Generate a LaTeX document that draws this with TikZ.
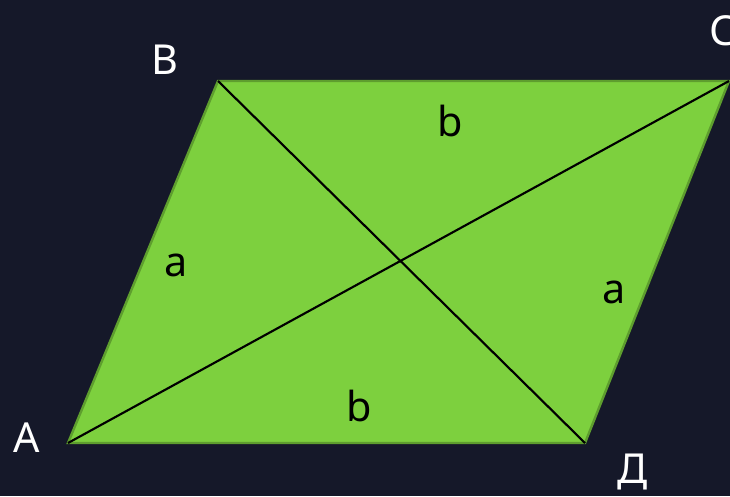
\documentclass[tikz,border=0pt]{standalone}
\usepackage{fontspec}
\setmainfont{Noto Sans}
\definecolor{bg}{HTML}{151829}
\definecolor{fillg}{HTML}{7DD03E}
\definecolor{edgeg}{HTML}{5E9E2E}
\begin{document}
\begin{tikzpicture}[x=0.75pt,y=-0.75pt,
  lbl/.style={inner sep=0pt,anchor=base west,font=\fontsize{31}{36}\selectfont},
  vlbl/.style={lbl,text=white},
  slbl/.style={lbl,text=black}]
\fill[bg] (0,0) rectangle (730,496);
\useasboundingbox (0,0) rectangle (730,496);
\coordinate (A) at (68,443);
\coordinate (B) at (218,81);
\coordinate (C) at (729,81);
\coordinate (D) at (585,443);
\filldraw[fill=fillg,draw=edgeg,line width=1.8pt,line join=miter] (A) -- (B) -- (C) -- (D) -- cycle;
\draw[black,line width=1.6pt] (A) -- (C);
\draw[black,line width=1.6pt] (B) -- (D);
\node[vlbl] (lA) at (13,452) {A};
\node[vlbl] (lB) at (151,74) {B};
\node[vlbl] (lC) at (709,45) {C};
\node[vlbl] (lD) at (617,483) {Д};
\node[slbl] (sbt) at (437,136) {b};
\node[slbl] (sal) at (164,276) {a};
\node[slbl] (sar) at (602,303) {a};
\node[slbl] (sbb) at (346,421) {b};
\end{tikzpicture}
\end{document}
